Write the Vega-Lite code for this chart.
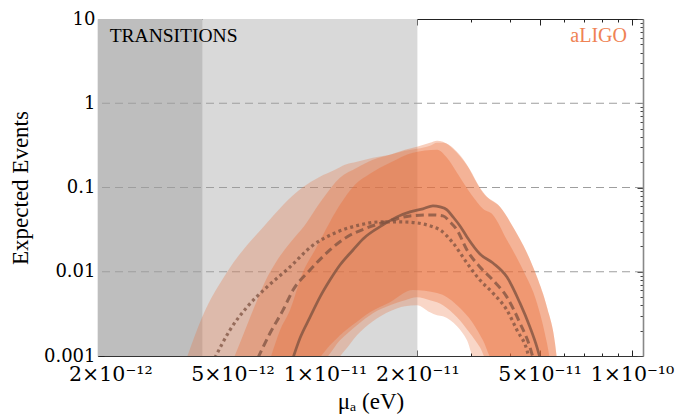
{
  "$schema": "https://vega.github.io/schema/vega-lite/v6.json",
  "width": 545,
  "height": 337,
  "autosize": {"type": "none"},
  "padding": {"left": 98, "top": 19, "right": 32, "bottom": 64},
  "background": "white",
  "config": {"view": {"stroke": null}, "font": "Liberation Serif"},
  "datasets": {
    "gray": [
      {"k": "dark", "a": 1.5e-12, "b": 4e-12},
      {"k": "light", "a": 4e-12, "b": 2e-11}
    ],
    "grid": [{"v": 0.01}, {"v": 0.1}, {"v": 1}],
    "bands": [
      {"b": "A", "x": 3.53e-12, "hi": 0.0009, "lo": 0.0009},
      {"b": "A", "x": 3.98e-12, "hi": 0.002888, "lo": 0.0009},
      {"b": "A", "x": 4.80e-12, "hi": 0.009918, "lo": 0.0009},
      {"b": "A", "x": 6.38e-12, "hi": 0.03597, "lo": 0.0009},
      {"b": "A", "x": 8.42e-12, "hi": 0.09918, "lo": 0.0009},
      {"b": "A", "x": 9.63e-12, "hi": 0.1341, "lo": 0.0009},
      {"b": "A", "x": 1.078e-11, "hi": 0.1624, "lo": 0.0009},
      {"b": "A", "x": 1.162e-11, "hi": 0.1863, "lo": 0.001169},
      {"b": "A", "x": 1.271e-11, "hi": 0.2023, "lo": 0.001764},
      {"b": "A", "x": 1.433e-11, "hi": 0.2257, "lo": 0.002589},
      {"b": "A", "x": 1.628e-11, "hi": 0.2451, "lo": 0.003405},
      {"b": "A", "x": 1.822e-11, "hi": 0.2735, "lo": 0.003905},
      {"b": "A", "x": 1.994e-11, "hi": 0.2888, "lo": 0.004013},
      {"b": "A", "x": 2.198e-11, "hi": 0.3136, "lo": 0.003313},
      {"b": "A", "x": 2.317e-11, "hi": 0.3405, "lo": 0.003051},
      {"b": "A", "x": 2.423e-11, "hi": 0.3405, "lo": 0.002969},
      {"b": "A", "x": 2.692e-11, "hi": 0.2661, "lo": 0.002257},
      {"b": "A", "x": 2.901e-11, "hi": 0.1863, "lo": 0.001538},
      {"b": "A", "x": 3.080e-11, "hi": 0.1235, "lo": 0.0009},
      {"b": "A", "x": 3.270e-11, "hi": 0.08648, "lo": 0.0009},
      {"b": "A", "x": 3.715e-11, "hi": 0.05891, "lo": 0.0009},
      {"b": "A", "x": 4.097e-11, "hi": 0.03405, "lo": 0.0009},
      {"b": "A", "x": 4.550e-11, "hi": 0.01670, "lo": 0.0009},
      {"b": "A", "x": 4.905e-11, "hi": 0.008647, "lo": 0.0009},
      {"b": "A", "x": 5.286e-11, "hi": 0.0038, "lo": 0.0009},
      {"b": "A", "x": 5.614e-11, "hi": 0.001416, "lo": 0.0009},
      {"b": "A", "x": 5.698e-11, "hi": 0.0009, "lo": 0.0009},
      {"b": "B", "x": 5.02e-12, "hi": 0.0009, "lo": 0.0009},
      {"b": "B", "x": 5.41e-12, "hi": 0.001764, "lo": 0.0009},
      {"b": "B", "x": 5.74e-12, "hi": 0.003051, "lo": 0.0009},
      {"b": "B", "x": 6.05e-12, "hi": 0.004863, "lo": 0.0009},
      {"b": "B", "x": 6.42e-12, "hi": 0.007965, "lo": 0.0009},
      {"b": "B", "x": 6.93e-12, "hi": 0.01305, "lo": 0.0009},
      {"b": "B", "x": 7.69e-12, "hi": 0.02196, "lo": 0.0009},
      {"b": "B", "x": 8.61e-12, "hi": 0.03597, "lo": 0.0009},
      {"b": "B", "x": 9.78e-12, "hi": 0.07139, "lo": 0.0009},
      {"b": "B", "x": 1.119e-11, "hi": 0.1305, "lo": 0.001538},
      {"b": "B", "x": 1.271e-11, "hi": 0.1716, "lo": 0.00232},
      {"b": "B", "x": 1.433e-11, "hi": 0.2137, "lo": 0.003223},
      {"b": "B", "x": 1.628e-11, "hi": 0.2451, "lo": 0.004013},
      {"b": "B", "x": 1.822e-11, "hi": 0.2811, "lo": 0.004604},
      {"b": "B", "x": 1.994e-11, "hi": 0.3051, "lo": 0.004998},
      {"b": "B", "x": 2.198e-11, "hi": 0.3405, "lo": 0.004604},
      {"b": "B", "x": 2.317e-11, "hi": 0.3597, "lo": 0.004358},
      {"b": "B", "x": 2.423e-11, "hi": 0.3499, "lo": 0.004013},
      {"b": "B", "x": 2.692e-11, "hi": 0.2589, "lo": 0.002888},
      {"b": "B", "x": 2.967e-11, "hi": 0.1624, "lo": 0.001863},
      {"b": "B", "x": 3.197e-11, "hi": 0.09918, "lo": 0.001269},
      {"b": "B", "x": 3.370e-11, "hi": 0.07751, "lo": 0.0009},
      {"b": "B", "x": 3.715e-11, "hi": 0.05891, "lo": 0.0009},
      {"b": "B", "x": 4.097e-11, "hi": 0.03405, "lo": 0.0009},
      {"b": "B", "x": 4.550e-11, "hi": 0.0167, "lo": 0.0009},
      {"b": "B", "x": 4.905e-11, "hi": 0.008647, "lo": 0.0009},
      {"b": "B", "x": 5.286e-11, "hi": 0.0038, "lo": 0.0009},
      {"b": "B", "x": 5.614e-11, "hi": 0.001416, "lo": 0.0009},
      {"b": "B", "x": 5.698e-11, "hi": 0.0009, "lo": 0.0009},
      {"b": "C", "x": 6.62e-12, "hi": 0.0009, "lo": 0.0009},
      {"b": "C", "x": 7.14e-12, "hi": 0.002023, "lo": 0.0009},
      {"b": "C", "x": 7.69e-12, "hi": 0.003499, "lo": 0.0009},
      {"b": "C", "x": 8.48e-12, "hi": 0.009918, "lo": 0.0009},
      {"b": "C", "x": 9.28e-12, "hi": 0.01813, "lo": 0.0009},
      {"b": "C", "x": 1.038e-11, "hi": 0.03905, "lo": 0.001341},
      {"b": "C", "x": 1.119e-11, "hi": 0.06223, "lo": 0.001764},
      {"b": "C", "x": 1.252e-11, "hi": 0.1077, "lo": 0.002451},
      {"b": "C", "x": 1.401e-11, "hi": 0.1456, "lo": 0.003313},
      {"b": "C", "x": 1.628e-11, "hi": 0.1968, "lo": 0.004358},
      {"b": "C", "x": 1.934e-11, "hi": 0.2589, "lo": 0.006055},
      {"b": "C", "x": 2.317e-11, "hi": 0.2811, "lo": 0.005578},
      {"b": "C", "x": 2.497e-11, "hi": 0.2257, "lo": 0.004998},
      {"b": "C", "x": 2.692e-11, "hi": 0.1496, "lo": 0.004013},
      {"b": "C", "x": 3.034e-11, "hi": 0.07751, "lo": 0.002451},
      {"b": "C", "x": 3.270e-11, "hi": 0.05578, "lo": 0.001538},
      {"b": "C", "x": 3.525e-11, "hi": 0.04732, "lo": 0.0009},
      {"b": "C", "x": 3.915e-11, "hi": 0.02384, "lo": 0.0009},
      {"b": "C", "x": 4.416e-11, "hi": 0.01048, "lo": 0.0009},
      {"b": "C", "x": 4.905e-11, "hi": 0.00424, "lo": 0.0009},
      {"b": "C", "x": 5.286e-11, "hi": 0.001416, "lo": 0.0009},
      {"b": "C", "x": 5.407e-11, "hi": 0.0009, "lo": 0.0009}
    ],
    "lines": [
      {"s": "solid", "x": 7.87e-12, "y": 0.00095},
      {"s": "solid", "x": 8.29e-12, "y": 0.001624},
      {"s": "solid", "x": 8.94e-12, "y": 0.002888},
      {"s": "solid", "x": 9.63e-12, "y": 0.004998},
      {"s": "solid", "x": 1.038e-11, "y": 0.007965},
      {"s": "solid", "x": 1.119e-11, "y": 0.01202},
      {"s": "solid", "x": 1.234e-11, "y": 0.01813},
      {"s": "solid", "x": 1.330e-11, "y": 0.02451},
      {"s": "solid", "x": 1.545e-11, "y": 0.03597},
      {"s": "solid", "x": 1.716e-11, "y": 0.04479},
      {"s": "solid", "x": 1.892e-11, "y": 0.05137},
      {"s": "solid", "x": 2.085e-11, "y": 0.05578},
      {"s": "solid", "x": 2.248e-11, "y": 0.06055},
      {"s": "solid", "x": 2.370e-11, "y": 0.05891},
      {"s": "solid", "x": 2.497e-11, "y": 0.05427},
      {"s": "solid", "x": 2.612e-11, "y": 0.04479},
      {"s": "solid", "x": 2.753e-11, "y": 0.03499},
      {"s": "solid", "x": 2.901e-11, "y": 0.02589},
      {"s": "solid", "x": 3.197e-11, "y": 0.01625},
      {"s": "solid", "x": 3.525e-11, "y": 0.01269},
      {"s": "solid", "x": 3.915e-11, "y": 0.008647},
      {"s": "solid", "x": 4.318e-11, "y": 0.00424},
      {"s": "solid", "x": 4.654e-11, "y": 0.002196},
      {"s": "solid", "x": 4.905e-11, "y": 0.001269},
      {"s": "solid", "x": 5.016e-11, "y": 0.00095},
      {"s": "dashed", "x": 6.05e-12, "y": 0.00095},
      {"s": "dashed", "x": 6.62e-12, "y": 0.001863},
      {"s": "dashed", "x": 7.30e-12, "y": 0.003499},
      {"s": "dashed", "x": 7.87e-12, "y": 0.006055},
      {"s": "dashed", "x": 8.94e-12, "y": 0.01048},
      {"s": "dashed", "x": 1.038e-11, "y": 0.01813},
      {"s": "dashed", "x": 1.179e-11, "y": 0.02589},
      {"s": "dashed", "x": 1.370e-11, "y": 0.03313},
      {"s": "dashed", "x": 1.665e-11, "y": 0.04125},
      {"s": "dashed", "x": 1.892e-11, "y": 0.04604},
      {"s": "dashed", "x": 2.248e-11, "y": 0.04732},
      {"s": "dashed", "x": 2.423e-11, "y": 0.04604},
      {"s": "dashed", "x": 2.554e-11, "y": 0.03905},
      {"s": "dashed", "x": 2.692e-11, "y": 0.03136},
      {"s": "dashed", "x": 2.901e-11, "y": 0.01813},
      {"s": "dashed", "x": 3.197e-11, "y": 0.01138},
      {"s": "dashed", "x": 3.525e-11, "y": 0.007965},
      {"s": "dashed", "x": 3.915e-11, "y": 0.004998},
      {"s": "dashed", "x": 4.318e-11, "y": 0.002451},
      {"s": "dashed", "x": 4.654e-11, "y": 0.001269},
      {"s": "dashed", "x": 4.760e-11, "y": 0.00095},
      {"s": "dotted", "x": 4.38e-12, "y": 0.00095},
      {"s": "dotted", "x": 4.90e-12, "y": 0.002023},
      {"s": "dotted", "x": 5.57e-12, "y": 0.0038},
      {"s": "dotted", "x": 6.47e-12, "y": 0.006576},
      {"s": "dotted", "x": 7.69e-12, "y": 0.01138},
      {"s": "dotted", "x": 9.07e-12, "y": 0.02023},
      {"s": "dotted", "x": 1.078e-11, "y": 0.02888},
      {"s": "dotted", "x": 1.300e-11, "y": 0.03597},
      {"s": "dotted", "x": 1.511e-11, "y": 0.03905},
      {"s": "dotted", "x": 1.755e-11, "y": 0.03905},
      {"s": "dotted", "x": 1.994e-11, "y": 0.038},
      {"s": "dotted", "x": 2.248e-11, "y": 0.03405},
      {"s": "dotted", "x": 2.370e-11, "y": 0.03136},
      {"s": "dotted", "x": 2.612e-11, "y": 0.02196},
      {"s": "dotted", "x": 2.901e-11, "y": 0.01269},
      {"s": "dotted", "x": 3.197e-11, "y": 0.007965},
      {"s": "dotted", "x": 3.525e-11, "y": 0.005578},
      {"s": "dotted", "x": 3.915e-11, "y": 0.003499},
      {"s": "dotted", "x": 4.222e-11, "y": 0.002023},
      {"s": "dotted", "x": 4.550e-11, "y": 0.001169},
      {"s": "dotted", "x": 4.619e-11, "y": 0.00095}
    ],
    "notes": [
      {"t": "TRANSITIONS", "x": 1.99e-12, "y": 5.28},
      {"t": "aLIGO", "x": 9.63e-11, "y": 5.28}
    ]
  },
  "layer": [
    {
      "data": {"name": "gray"},
      "mark": {"type": "rect", "clip": true},
      "encoding": {
        "x": {"field": "a", "type": "quantitative", "scale": {"type": "log", "domain": [1.823e-12, 1.086e-10]}, "axis": null},
        "x2": {"field": "b"},
        "color": {"field": "k", "type": "nominal", "scale": {"domain": ["dark", "light"], "range": ["#bebebe", "#d9d9d9"]}, "legend": null}
      }
    },
    {
      "data": {"name": "grid"},
      "mark": {"type": "rule", "color": "#9e9e9e", "strokeDash": [8, 5], "strokeWidth": 1.1},
      "encoding": {
        "y": {"field": "v", "type": "quantitative", "scale": {"type": "log", "domain": [0.001, 10]}, "axis": null}
      }
    },
    {
      "data": {"name": "bands"},
      "mark": {"type": "area", "clip": true, "interpolate": "monotone", "color": "#ea6d36"},
      "encoding": {
        "x": {
          "field": "x", "type": "quantitative",
          "scale": {"type": "log", "domain": [1.823e-12, 1.086e-10]},
          "axis": {
            "orient": "bottom",
            "values": [2e-12, 3e-12, 4e-12, 5e-12, 6e-12, 7e-12, 8e-12, 9e-12, 1e-11, 2e-11, 3e-11, 4e-11, 5e-11, 6e-11, 7e-11, 8e-11, 9e-11, 1e-10],
            "labelExpr": "datum.value==2e-12?'2×10⁻¹²':datum.value==5e-12?'5×10⁻¹²':datum.value==1e-11?'1×10⁻¹¹':datum.value==2e-11?'2×10⁻¹¹':datum.value==5e-11?'5×10⁻¹¹':datum.value==1e-10?'1×10⁻¹⁰':''",
            "labelFont": "DejaVu Serif", "labelFontSize": 20.5, "labelColor": "black",
            "labelOverlap": false, "labelFlush": false, "labelPadding": 14,
            "tickSize": {"condition": {"test": "datum.value==2e-12||datum.value==5e-12||datum.value==1e-11||datum.value==2e-11||datum.value==5e-11||datum.value==1e-10", "value": -6}, "value": -3},
            "tickColor": "#222", "tickWidth": 1,
            "domainColor": "#333", "domainWidth": 1.2, "grid": false,
            "title": "μₐ (eV)", "titleFont": "Liberation Serif", "titleFontSize": 23, "titleFontWeight": "normal", "titleColor": "black", "titlePadding": 3
          }
        },
        "y": {
          "field": "hi", "type": "quantitative",
          "scale": {"type": "log", "domain": [0.001, 10]},
          "axis": {
            "orient": "left",
            "values": [0.001, 0.002, 0.003, 0.004, 0.005, 0.006, 0.007, 0.008, 0.009, 0.01, 0.02, 0.03, 0.04, 0.05, 0.06, 0.07, 0.08, 0.09, 0.1, 0.2, 0.3, 0.4, 0.5, 0.6, 0.7, 0.8, 0.9, 1, 2, 3, 4, 5, 6, 7, 8, 9, 10],
            "labelExpr": "datum.value==0.001?'0.001':datum.value==0.01?'0.01':datum.value==0.1?'0.1':datum.value==1?'1':datum.value==10?'10':''",
            "labelFont": "DejaVu Serif", "labelFontSize": 18, "labelColor": "black",
            "labelOverlap": false, "labelFlush": false, "labelPadding": 9,
            "tickSize": {"condition": {"test": "datum.value==0.001||datum.value==0.01||datum.value==0.1||datum.value==1||datum.value==10", "value": -6}, "value": -3},
            "tickColor": "#222", "tickWidth": 1,
            "domainColor": "#333", "domainWidth": 1.2, "grid": false,
            "title": "Expected Events", "titleFont": "Liberation Serif", "titleFontSize": 23, "titleFontWeight": "normal", "titleColor": "black", "titlePadding": 11
          }
        },
        "y2": {"field": "lo"},
        "detail": {"field": "b"},
        "opacity": {"field": "b", "type": "nominal", "scale": {"domain": ["A", "B", "C"], "range": [0.28, 0.38, 0.65]}, "legend": null}
      }
    },
    {
      "data": {"name": "lines"},
      "transform": [{"filter": "datum.s=='solid'"}],
      "mark": {"type": "line", "clip": true, "interpolate": "monotone", "color": "#7d5240", "opacity": 0.78, "strokeWidth": 2.7},
      "encoding": {
        "x": {
          "field": "x", "type": "quantitative",
          "scale": {"type": "log", "domain": [1.823e-12, 1.086e-10]},
          "axis": {
            "orient": "top", "labels": false, "title": null, "grid": false,
            "values": [2e-12, 3e-12, 4e-12, 5e-12, 6e-12, 7e-12, 8e-12, 9e-12, 1e-11, 2e-11, 3e-11, 4e-11, 5e-11, 6e-11, 7e-11, 8e-11, 9e-11, 1e-10],
            "tickSize": {"condition": {"test": "datum.value==2e-12||datum.value==5e-12||datum.value==1e-11||datum.value==2e-11||datum.value==5e-11||datum.value==1e-10", "value": -6}, "value": -3},
            "tickColor": "#222", "domainColor": "#222", "domainWidth": 1.2
          }
        },
        "y": {
          "field": "y", "type": "quantitative",
          "scale": {"type": "log", "domain": [0.001, 10]},
          "axis": {
            "orient": "right", "labels": false, "title": null, "grid": false,
            "values": [0.001, 0.002, 0.003, 0.004, 0.005, 0.006, 0.007, 0.008, 0.009, 0.01, 0.02, 0.03, 0.04, 0.05, 0.06, 0.07, 0.08, 0.09, 0.1, 0.2, 0.3, 0.4, 0.5, 0.6, 0.7, 0.8, 0.9, 1, 2, 3, 4, 5, 6, 7, 8, 9, 10],
            "tickSize": {"condition": {"test": "datum.value==0.001||datum.value==0.01||datum.value==0.1||datum.value==1||datum.value==10", "value": -6}, "value": -3},
            "tickColor": "#444", "domainColor": "#888", "domainWidth": 1.6
          }
        }
      }
    },
    {
      "data": {"name": "lines"},
      "transform": [{"filter": "datum.s=='dashed'"}],
      "mark": {"type": "line", "clip": true, "interpolate": "monotone", "color": "#7d5240", "opacity": 0.75, "strokeWidth": 3, "strokeDash": [8, 4.5]},
      "encoding": {
        "x": {"field": "x", "type": "quantitative", "scale": {"type": "log", "domain": [1.823e-12, 1.086e-10]}, "axis": null},
        "y": {"field": "y", "type": "quantitative", "scale": {"type": "log", "domain": [0.001, 10]}, "axis": null}
      }
    },
    {
      "data": {"name": "lines"},
      "transform": [{"filter": "datum.s=='dotted'"}],
      "mark": {"type": "line", "clip": true, "interpolate": "monotone", "color": "#7d5240", "opacity": 0.75, "strokeWidth": 3.2, "strokeDash": [3, 3.2], "strokeCap": "butt"},
      "encoding": {
        "x": {"field": "x", "type": "quantitative", "scale": {"type": "log", "domain": [1.823e-12, 1.086e-10]}, "axis": null},
        "y": {"field": "y", "type": "quantitative", "scale": {"type": "log", "domain": [0.001, 10]}, "axis": null}
      }
    },
    {
      "data": {"name": "notes"},
      "transform": [{"filter": "datum.t=='TRANSITIONS'"}],
      "mark": {"type": "text", "align": "left", "baseline": "alphabetic", "font": "Liberation Serif", "fontSize": 19.5, "color": "black"},
      "encoding": {
        "x": {"field": "x", "type": "quantitative", "scale": {"type": "log", "domain": [1.823e-12, 1.086e-10]}, "axis": null},
        "y": {"field": "y", "type": "quantitative", "scale": {"type": "log", "domain": [0.001, 10]}, "axis": null},
        "text": {"field": "t"}
      }
    },
    {
      "data": {"name": "notes"},
      "transform": [{"filter": "datum.t=='aLIGO'"}],
      "mark": {"type": "text", "align": "right", "baseline": "alphabetic", "font": "Liberation Serif", "fontSize": 20, "color": "#ef8354"},
      "encoding": {
        "x": {"field": "x", "type": "quantitative", "scale": {"type": "log", "domain": [1.823e-12, 1.086e-10]}, "axis": null},
        "y": {"field": "y", "type": "quantitative", "scale": {"type": "log", "domain": [0.001, 10]}, "axis": null},
        "text": {"field": "t"}
      }
    }
  ],
  "resolve": {"axis": {"x": "independent", "y": "independent"}}
}
